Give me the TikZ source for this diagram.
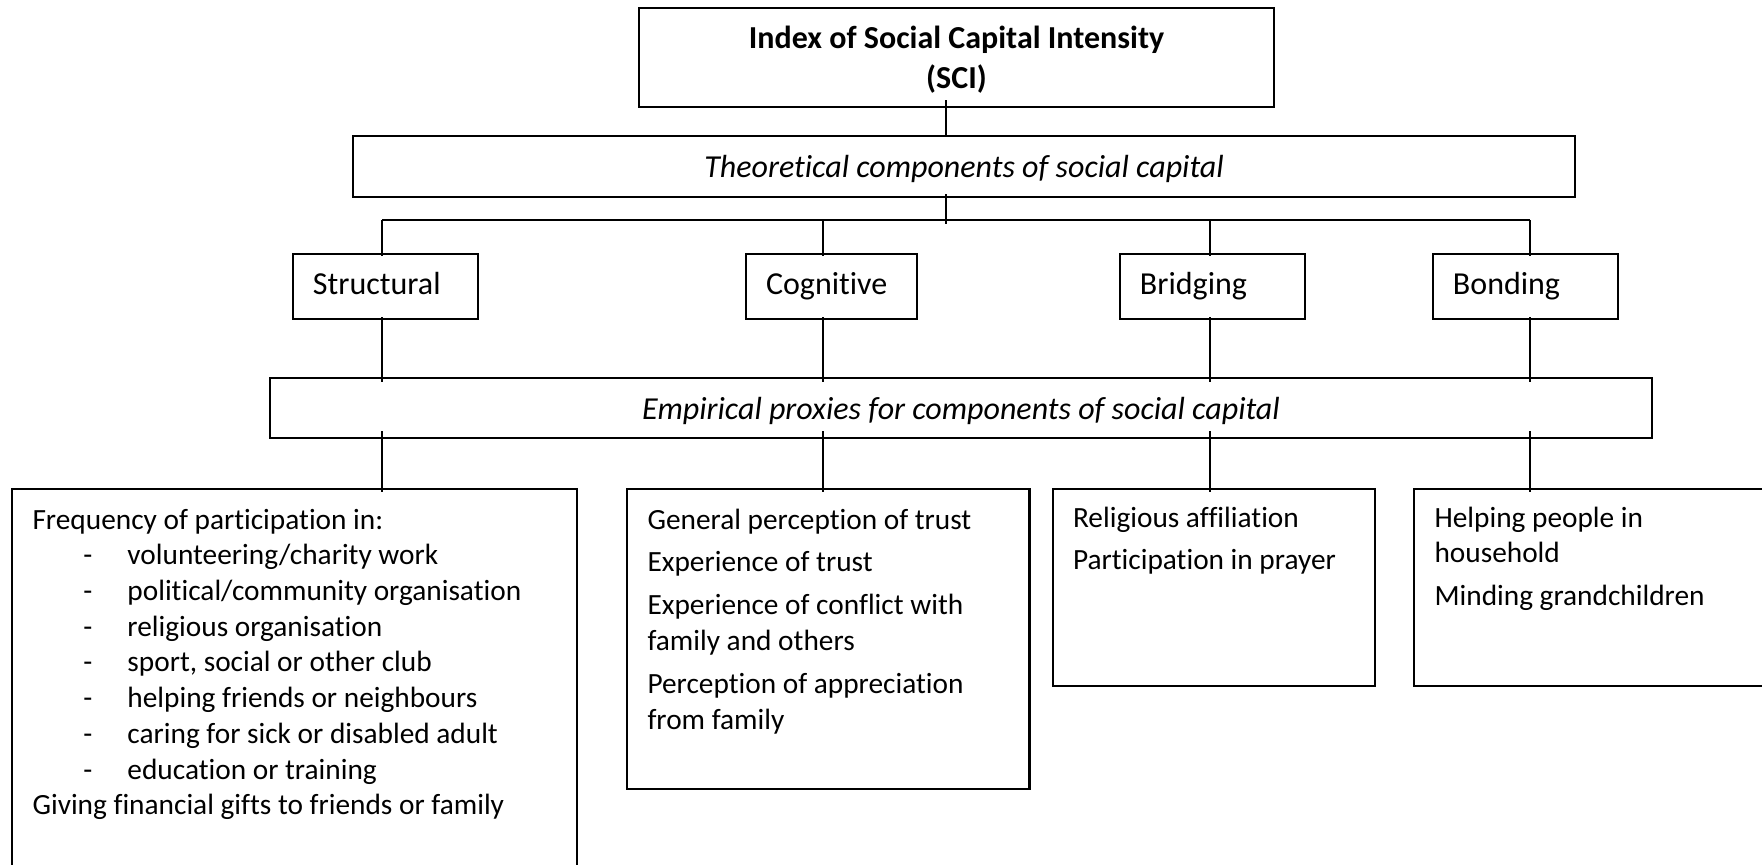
\documentclass[tikz,border=0pt]{standalone}
\usepackage{fontspec}
\setmainfont{Carlito}[Ligatures=NoCommon]

\newcommand\boxfont{\fontsize{11}{13.4}\selectfont}
\newcommand\headfont{\fontsize{12}{14.6}\selectfont}
\newcommand\dashitem[1]{\hspace*{19.1pt}\makebox[16.5pt][l]{-}#1}

\begin{document}
\begin{tikzpicture}[x=0.375pt, y=-0.375pt, font=\boxfont,
    box/.style={draw, line width=0.8pt, inner sep=0pt},
    layer/.style={box, text depth=0pt, font=\headfont\itshape},
    comp/.style={box, minimum height=24.4pt, inner xsep=7.5pt, text width=#1,
        text height=8.6pt, text depth=2.6pt, align=flush left, font=\headfont},
    proxy/.style={box, anchor=north west},
    items/.style={anchor=base west, inner sep=0pt, text width=#1, align=flush left},
    conn/.style={line width=0.5pt}]
    \useasboundingbox (0,0) rectangle (1762,864);
    \clip (0,0) rectangle (1762,864);

    % index and theory layer
    \node[box, minimum width=238.1pt, minimum height=37.1pt, align=center, text depth=0pt, font=\headfont\bfseries] (sci) at (956.5,57.5) {Index of Social Capital Intensity\\[0.4pt](SCI)};
    \node[layer, minimum width=458.3pt, minimum height=22.9pt] (theo) at (964,166.5) {Theoretical components of social capital};

    % components
    \node[comp=54.4pt] (structural) at (385.5,286.5) {Structural};
    \node[comp=49.1pt] (cognitive) at (831.5,286.5) {Cognitive};
    \node[comp=54.4pt] (bridging) at (1212.5,286.5) {Bridging};
    \node[comp=54.4pt] (bonding) at (1525.5,286.5) {Bonding};

    \node[layer, minimum width=518.3pt, minimum height=22.5pt] (emp) at (961,408) {Empirical proxies for components of social capital};

    % proxy boxes
    \node[proxy, minimum width=211.9pt, minimum height=150pt] (p1) at (11,488) {};
    \node[proxy, minimum width=150.9pt, minimum height=112.5pt] (p2) at (626,488) {};
    \node[proxy, minimum width=120.9pt, minimum height=73.9pt] (p3) at (1051.5,488) {};
    \node[proxy, minimum width=138.8pt, minimum height=73.9pt] (p4) at (1413,488) {};

    \node[items=196pt] (p1text) at ([shift={(21,41)}]p1.north west) {Frequency of participation in:\\
        \dashitem{volunteering/charity work}\\
        \dashitem{political/community organisation}\\
        \dashitem{religious organisation}\\
        \dashitem{sport, social or other club}\\
        \dashitem{helping friends or neighbours}\\
        \dashitem{caring for sick or disabled adult}\\
        \dashitem{education or training}\\
        Giving financial gifts to friends or family};
    \node[items=135pt] (p2text) at ([shift={(21,41)}]p2.north west) {General perception of trust\\[2.7pt]
        Experience of trust\\[2.7pt]
        Experience of conflict with\\family and others\\[2.7pt]
        Perception of appreciation\\from family};
    \node[items=105pt] (p3text) at ([shift={(21,39)}]p3.north west) {Religious affiliation\\[2.7pt]
        Participation in prayer};
    \node[items=124pt] (p4text) at ([shift={(21,39)}]p4.north west) {Helping people in\\household\\[2.7pt]
        Minding grandchildren};

    % connectors
    \coordinate (hub) at (946,220);
    \coordinate (b1) at (382,220);
    \coordinate (b2) at (823,220);
    \coordinate (b3) at (1210,220);
    \coordinate (b4) at (1530,220);
    \draw[conn, shorten <=-3pt] (sci.south -| hub) -- (theo.north -| hub);
    \draw[conn, shorten <=-1.5pt, shorten >=-1.5pt] (theo.south -| hub) -- (hub);
    \draw[conn] (b1) -- (b4);
    \foreach \c/\p/\b in {structural/p1/b1, cognitive/p2/b2, bridging/p3/b3, bonding/p4/b4} {
        \draw[conn, shorten >=-1.1pt] (\b) -- (\c.north -| \b);
        \draw[conn, shorten <=-1.1pt, shorten >=-1.9pt] (\c.south -| \b) -- (emp.north -| \b);
        \draw[conn, shorten <=-3pt, shorten >=-1.5pt] (emp.south -| \b) -- (\p.north -| \b);
    }
\end{tikzpicture}
\end{document}
